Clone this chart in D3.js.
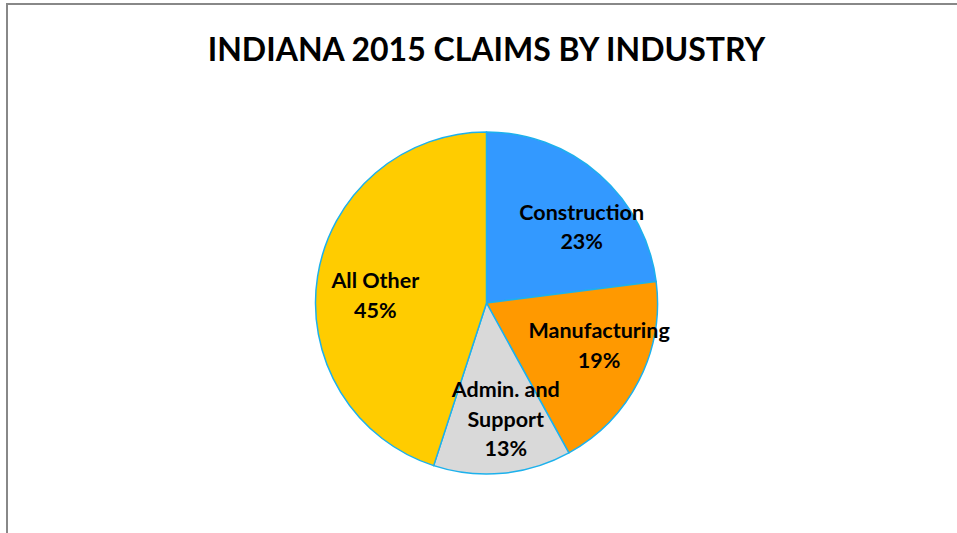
<!DOCTYPE html>
<html>
<head>
<meta charset="utf-8">
<script src="https://cdn.jsdelivr.net/npm/d3@7"></script>
<style>
  body { margin: 0; background: #fff; }
</style>
</head>
<body>
<svg width="957" height="533"></svg>
<script>
// slice data, clockwise from 12 o'clock
const industries = ["Construction", "Manufacturing", "Admin. and Support", "All Other"];
const shares = [23, 19, 13, 45];
const labelLines = [["Construction"], ["Manufacturing"], ["Admin. and", "Support"], ["All Other"]];
const colors = ["#3399FF", "#FF9900", "#D9D9D9", "#FFCC00"];

const width = 957, height = 533;
const cx = 486.5, cy = 303, r = 171;
const font = "Lato, 'Open Sans', sans-serif";

// label nudges (px) to get close to excel's "best fit" spots
const nudge = [[16, 14], [6, -12], [8, -3], [7, 11]];

const svg = d3.select("svg");

// chart frame
svg.append("rect")
    .attr("x", 7).attr("y", 4)
    .attr("width", width + 10).attr("height", height + 10)
    .attr("fill", "none")
    .attr("stroke", "#888")
    .attr("stroke-width", 2);

svg.append("text")
    .attr("x", cx)
    .attr("y", 61)
    .attr("text-anchor", "middle")
    .attr("font-family", font)
    .attr("font-weight", "bold")
    .attr("font-size", 32)
    .attr("fill", "#000")
    .text("INDIANA 2015 CLAIMS BY INDUSTRY");

const data = industries.map((name, i) => ({name, value: shares[i], lines: labelLines[i], i}));

const pie = d3.pie().sort(null).value(d => d.value);
const arcs = pie(data);

const arc = d3.arc().innerRadius(0).outerRadius(r);
const labelArc = d3.arc().innerRadius(0).outerRadius(r * 1.4);

const g = svg.append("g").attr("transform", `translate(${cx},${cy})`);

g.selectAll("path")
  .data(arcs)
  .join("path")
    .attr("d", arc)
    .attr("fill", d => colors[d.data.i])
    .attr("stroke", "#1DB1EC")
    .attr("stroke-width", 1.5)
    .attr("stroke-linejoin", "round");

const lineH = 29.5;
const labels = g.selectAll("text.lbl")
  .data(arcs)
  .join("text")
    .attr("class", "lbl")
    .attr("text-anchor", "middle")
    .attr("font-family", font)
    .attr("font-weight", "bold")
    .attr("font-size", 21.5)
    .attr("fill", "#000")
    .attr("transform", d => {
      const c = labelArc.centroid(d);
      const n = nudge[d.data.i];
      const lines = d.data.lines.length + 1;
      return `translate(${c[0] + n[0]},${c[1] + n[1] - (lines - 1) * lineH / 2})`;
    });

labels.each(function(d) {
  const t = d3.select(this);
  const all = d.data.lines.concat([d.data.value + "%"]);
  all.forEach((s, k) => {
    t.append("tspan")
      .attr("x", 0)
      .attr("y", k * lineH)
      .attr("dy", "0.35em")
      .text(s);
  });
});
</script>
</body>
</html>
